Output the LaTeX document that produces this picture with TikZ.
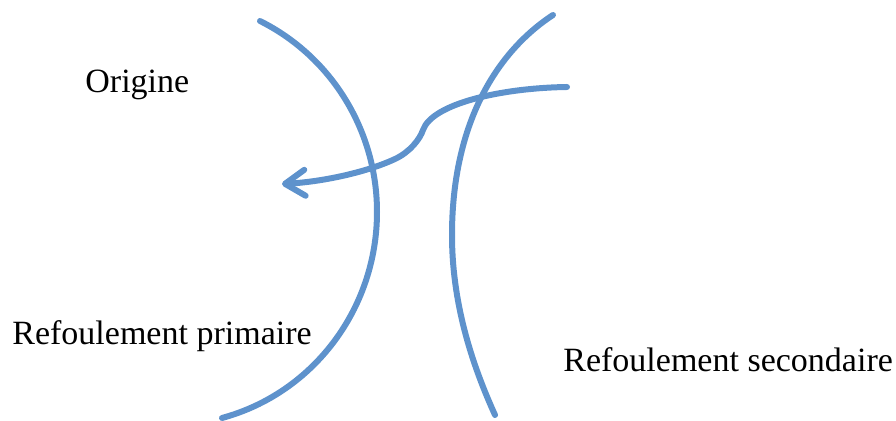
\documentclass[tikz,border=0pt]{standalone}
\usepackage{fontspec}
\setmainfont{Liberation Serif}
\usetikzlibrary{arrows.meta}
\definecolor{trait}{RGB}{94,146,204}
\tikzset{
  courbe/.style={draw=trait,line width=3pt,line cap=round},
  etiq/.style={anchor=base west,inner sep=0pt,font=\fontsize{17}{20}\selectfont},
}

\begin{document}
\begin{tikzpicture}[x=0.5pt,y=-0.5pt]
  \useasboundingbox (0,0) rectangle (896,421);
  % libelles
  \node[etiq] (orig) at (85,93) {Origine};
  \node[etiq] (prim) at (12,345) {Refoulement primaire};
  \node[etiq] (sec) at (563,372) {Refoulement secondaire};
  % extremites des courbes
  \coordinate (p1) at (260,21);
  \coordinate (p2) at (377,212);
  \coordinate (p3) at (222,418);
  \coordinate (s1) at (553,15);
  \coordinate (s2) at (452,235);
  \coordinate (s3) at (495,415);
  \coordinate (depart) at (567,87);
  \coordinate (pli) at (423,130);
  \coordinate (coude) at (395,159);
  \coordinate (but) at (282,184);
  % refoulement primaire
  \draw[courbe] (p1) .. controls (332,57) and (377,131) .. (p2)
                     .. controls (377,308) and (314,393) .. (p3);
  % refoulement secondaire
  \draw[courbe] (s1) .. controls (492,55) and (452,130) .. (s2)
                     .. controls (452,300) and (470,360) .. (s3);
  % retour vers l'origine
  \draw[courbe,-{Straight Barb[length=10pt,width=13pt,round]}]
    (depart) .. controls (500,88) and (432,104) .. (pli)
             .. controls (420,139) and (410,152) .. (coude)
             .. controls (365,173) and (320,182) .. (but);
\end{tikzpicture}
\end{document}
